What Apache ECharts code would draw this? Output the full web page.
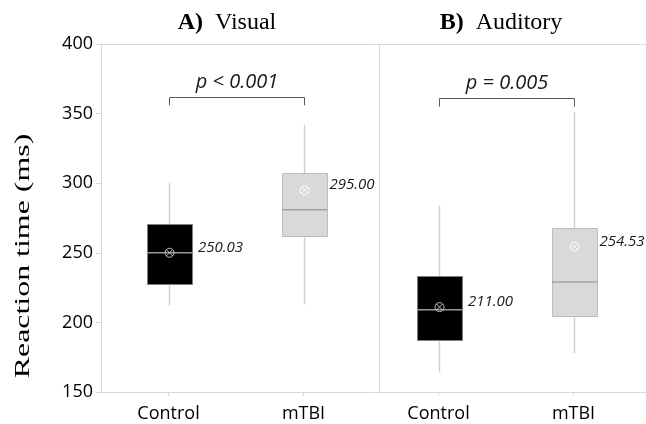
<!DOCTYPE html>
<html><head><meta charset="utf-8">
<script src="https://cdn.jsdelivr.net/npm/echarts/dist/echarts.min.js"></script>
<style>html,body{margin:0;padding:0;background:#fff}#c{width:646px;height:424px}</style>
</head><body><div id="c"></div>
<script>
// ---- data ----
const categories = ['Control', 'mTBI', 'Control', 'mTBI'];
const whiskerLow = [212, 213, 164, 178];
const q1 = [228, 262, 187, 205];
const medians = [250, 281, 209, 229];
const q3 = [271, 307, 233, 268];
const whiskerHigh = [300, 342, 284, 351];
const means = [250.03, 295.00, 211.00, 254.53];
const meanLabels = ['250.03', '295.00', '211.00', '254.53'];
const panelTags = ['A)', 'B)'];
const panelNames = ['Visual', 'Auditory'];
const pFrom = [0, 2];
const pTo = [1, 3];
const pLevel = [362, 361];
const pTickEnd = [356, 355];
const pTexts = ['p < 0.001', 'p = 0.005'];
const yMin = 150, yMax = 400, yStep = 50;
const separatorAt = 1.56; // between the two panels (category units)

// ---- build ----
const boxData = categories.map((c, i) => [i, whiskerLow[i], q1[i], medians[i], q3[i], whiskerHigh[i], means[i]]);
const pData = pFrom.map((f, i) => [f, pTo[i], pLevel[i], pTickEnd[i]]);

function renderBox(params, api) {
  const i = api.value(0);
  const isCtrl = i % 2 === 0;
  const band = api.size([1, 0])[0];
  const bw = band * 0.333;
  const lo = api.coord([i, api.value(1)]);
  const a = api.coord([i, api.value(2)]);
  const m = api.coord([i, api.value(3)]);
  const b = api.coord([i, api.value(4)]);
  const hi = api.coord([i, api.value(5)]);
  const mu = api.coord([i, api.value(6)]);
  const cx = Math.round(m[0]) + 0.5;
  const r = 4.5, d = r * 0.7071;
  const mk = isCtrl ? '#bfbfbf' : '#ffffff';
  return {
    type: 'group',
    children: [
      {type: 'line', shape: {x1: cx, y1: hi[1], x2: cx, y2: lo[1]}, style: {stroke: '#d0d0d0', lineWidth: 1.5}},
      {type: 'rect', shape: {x: Math.round(cx - bw / 2) + 0.5, y: Math.round(b[1]) + 0.5, width: Math.round(bw), height: Math.round(a[1] - b[1])},
        style: {fill: isCtrl ? '#000000' : '#d9d9d9', stroke: isCtrl ? '#7f7f7f' : '#bcbcbc', lineWidth: 1}},
      {type: 'line', shape: {x1: cx - bw / 2, y1: m[1], x2: cx + bw / 2, y2: m[1]}, style: {stroke: isCtrl ? '#9a9a9a' : '#a3a3a3', lineWidth: 1.5}},
      {type: 'circle', shape: {cx: cx, cy: mu[1], r: r}, style: {fill: 'none', stroke: mk, lineWidth: 1}},
      {type: 'line', shape: {x1: cx - d, y1: mu[1] - d, x2: cx + d, y2: mu[1] + d}, style: {stroke: mk, lineWidth: 1}},
      {type: 'line', shape: {x1: cx - d, y1: mu[1] + d, x2: cx + d, y2: mu[1] - d}, style: {stroke: mk, lineWidth: 1}},
      {type: 'text', style: {text: meanLabels[params.dataIndex], x: cx + (isCtrl ? 28.5 : 25), y: mu[1] - 5,
        font: 'italic 15px "Open Sans"', fill: '#1a1a1a', align: 'left', verticalAlign: 'middle'}}
    ]
  };
}

function renderP(params, api) {
  const s = api.coord([api.value(0), api.value(2)]);
  const e = api.coord([api.value(1), api.value(2)]);
  const t = api.coord([api.value(0), api.value(3)]);
  const y = Math.round(s[1]) + 0.5;
  const x1 = Math.round(s[0]) + 0.5, x2 = Math.round(e[0]) + 0.5;
  return {
    type: 'group',
    children: [
      {type: 'polyline', shape: {points: [[x1, t[1]], [x1, y], [x2, y], [x2, t[1]]]}, style: {stroke: '#595959', lineWidth: 1, fill: 'none'}},
      {type: 'text', style: {text: pTexts[params.dataIndex], x: (x1 + x2) / 2, y: y - 15,
        font: 'italic 20px "Open Sans"', fill: '#1a1a1a', align: 'center', verticalAlign: 'middle'}}
    ]
  };
}

const chart = echarts.init(document.getElementById('c'), null, {renderer: 'canvas'});
const axisGray = '#d9d9d9';
chart.setOption({
  animation: false,
  backgroundColor: '#ffffff',
  grid: [
    {left: 101, top: 44, width: 540, height: 348},
    {left: 101, top: 44, right: 0, height: 348}
  ],
  xAxis: [
    {type: 'category', gridIndex: 0, data: categories, boundaryGap: true,
      axisLine: {show: false},
      axisTick: {show: true, alignWithLabel: true, length: 4, lineStyle: {color: axisGray}},
      axisLabel: {color: '#000', fontFamily: 'Open Sans', fontSize: 18, margin: 13}},
    {type: 'value', gridIndex: 1, min: -0.5, max: 3.537, position: 'bottom',
      axisLine: {show: true, onZero: false, lineStyle: {color: axisGray}}, axisTick: {show: false}, axisLabel: {show: false}, splitLine: {show: false}},
    {type: 'value', gridIndex: 1, min: -0.5, max: 3.537, position: 'top',
      axisLine: {show: true, onZero: false, lineStyle: {color: axisGray}}, axisTick: {show: false}, axisLabel: {show: false}, splitLine: {show: false}}
  ],
  yAxis: [
    {type: 'value', gridIndex: 0, min: yMin, max: yMax, interval: yStep,
      axisLine: {show: true, lineStyle: {color: axisGray}},
      axisTick: {show: true, length: 5, lineStyle: {color: axisGray}},
      axisLabel: {color: '#000', fontFamily: 'Open Sans', fontSize: 18, margin: 8},
      splitLine: {show: false}},
    {type: 'value', gridIndex: 1, min: yMin, max: yMax, show: false}
  ],
  graphic: [
    {type: 'text', x: 23, y: 256, rotation: Math.PI / 2, scaleX: 1.52,
      style: {text: 'Reaction time (ms)', font: '21px "Liberation Serif"', fill: '#000', align: 'center', verticalAlign: 'middle'}},
    {type: 'text', x: 227, y: 23,
      style: {text: '{b|' + panelTags[0] + '}  ' + panelNames[0], font: '24px "Liberation Serif"', fill: '#000', align: 'center', verticalAlign: 'middle',
        rich: {b: {font: 'bold 24px "Liberation Serif"', fill: '#000'}}}},
    {type: 'text', x: 501, y: 23,
      style: {text: '{b|' + panelTags[1] + '}  ' + panelNames[1], font: '24px "Liberation Serif"', fill: '#000', align: 'center', verticalAlign: 'middle',
        rich: {b: {font: 'bold 24px "Liberation Serif"', fill: '#000'}}}}
  ],
  series: [
    {type: 'custom', xAxisIndex: 0, yAxisIndex: 0, data: boxData, renderItem: renderBox,
      encode: {x: 0, y: [1, 2, 3, 4, 5, 6]}, silent: true, clip: false},
    {type: 'custom', xAxisIndex: 0, yAxisIndex: 0, data: pData, renderItem: renderP,
      encode: {x: [0, 1], y: [2, 3]}, silent: true, clip: false},
    {type: 'line', xAxisIndex: 1, yAxisIndex: 1, data: [], silent: true,
      markLine: {symbol: 'none', silent: true, label: {show: false}, lineStyle: {color: axisGray, type: 'solid', width: 1},
        data: [{xAxis: separatorAt}]}}
  ]
});
</script></body></html>
